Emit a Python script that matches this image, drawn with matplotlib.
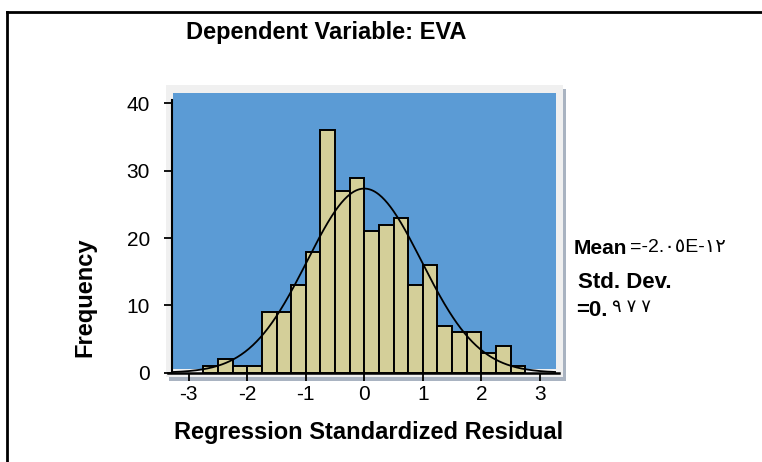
import matplotlib
matplotlib.use('Agg')
import matplotlib.pyplot as plt
from matplotlib.patches import Rectangle
import numpy as np

plt.rcParams['font.family'] = ['Liberation Sans', 'DejaVu Sans']

# histogram data (bins of width 0.25 from -2.75 to 2.75)
bin_edges = [-2.75, -2.5, -2.25, -2.0, -1.75, -1.5, -1.25, -1.0, -0.75, -0.5, -0.25,
             0.0, 0.25, 0.5, 0.75, 1.0, 1.25, 1.5, 1.75, 2.0, 2.25, 2.5, 2.75]
counts = [1, 2, 1, 1, 9, 9, 13, 18, 36, 27, 29, 21, 22, 23, 13, 16, 7, 6, 6, 3, 4, 1]
mean = -2.05e-12
std_dev = 0.977
x_ticks = [-3, -2, -1, 0, 1, 2, 3]
y_ticks = [0, 10, 20, 30, 40]

W, H = 762, 462


def fx(px):
    return px / W


def fy(py):
    return 1 - py / H


fig = plt.figure(figsize=(W / 100, H / 100), dpi=100)

# outer frame (top and left edges only visible)
fig.add_artist(plt.Line2D([fx(7), fx(7)], [fy(12), 0], color='black', lw=2))
fig.add_artist(plt.Line2D([fx(7), 1], [fy(12), fy(12)], color='black', lw=2))

# plot frame shadow and light panel
fig.patches.append(Rectangle((fx(169), fy(381)), fx(566) - fx(169), fy(89) - fy(381),
                             transform=fig.transFigure, facecolor='#a9b3c1',
                             edgecolor='none', zorder=-3))
fig.patches.append(Rectangle((fx(166), fy(377)), fx(563) - fx(166), fy(85) - fy(377),
                             transform=fig.transFigure, facecolor='#f0f0f0',
                             edgecolor='none', zorder=-2))

ax = fig.add_axes([fx(172), fy(372.7), fx(556) - fx(172), fy(93) - fy(372.7)])
ax.set_facecolor('none')
ax.add_patch(Rectangle((0.003, 0.013), 0.997, 0.987, transform=ax.transAxes,
                       facecolor='#5b9bd5', edgecolor='none', zorder=0))

widths = np.diff(bin_edges)
ax.bar(bin_edges[:-1], counts, width=widths, align='edge', color='#d4cf99',
       edgecolor='black', linewidth=1.4, zorder=2)

n = sum(counts)
bw = widths[0]
xs = np.linspace(-3.29, 3.28, 400)
ys = n * bw / (std_dev * np.sqrt(2 * np.pi)) * np.exp(-0.5 * ((xs - mean) / std_dev) ** 2)
ax.plot(xs, ys, color='black', lw=1.3, zorder=3)

ax.set_xlim(-3.287, 3.277)
ax.set_ylim(0, 41.56)
ax.set_xticks(x_ticks)
ax.set_xticklabels([str(v) if v >= 0 else '-' + str(-v) for v in x_ticks])
ax.set_yticks(y_ticks)
ax.tick_params(axis='both', labelsize=15, width=1.3, length=6, direction='out', colors='black')
ax.tick_params(axis='x', pad=3)
ax.tick_params(axis='y', pad=10)

for s in ['top', 'right', 'bottom']:
    ax.spines[s].set_visible(False)
ax.spines['left'].set_linewidth(1.5)
ax.spines['left'].set_bounds(0, 40.5)
ax.axhline(0, xmin=-0.01, xmax=1.008, color='black', lw=1.8, clip_on=False, zorder=4)

fig.text(fx(326.5), fy(33), 'Dependent Variable: EVA', fontsize=17, weight='bold',
         ha='center', va='center')
fig.text(fx(369), fy(433), 'Regression Standardized Residual', fontsize=17,
         weight='bold', ha='center', va='center')
fig.text(fx(85), fy(297), 'Frequency', fontsize=17, weight='bold', rotation=90,
         ha='center', va='center')

# statistics box
fig.text(fx(574), fy(248), 'Mean', fontsize=15, weight='bold', ha='left', va='center')
fig.text(fx(630), fy(248), '=-2.\u0660\u0665E-\u0661\u0662', fontsize=14,
         ha='left', va='center')
fig.text(fx(578), fy(283), 'Std. Dev.', fontsize=16, weight='bold', ha='left', va='center')
fig.text(fx(576), fy(310), '=0.', fontsize=16, weight='bold', ha='left', va='center')
fig.text(fx(612), fy(308), '\u0669 \u0667 \u0667', fontsize=13, ha='left', va='center')

fig.savefig('out.png', dpi=100)
